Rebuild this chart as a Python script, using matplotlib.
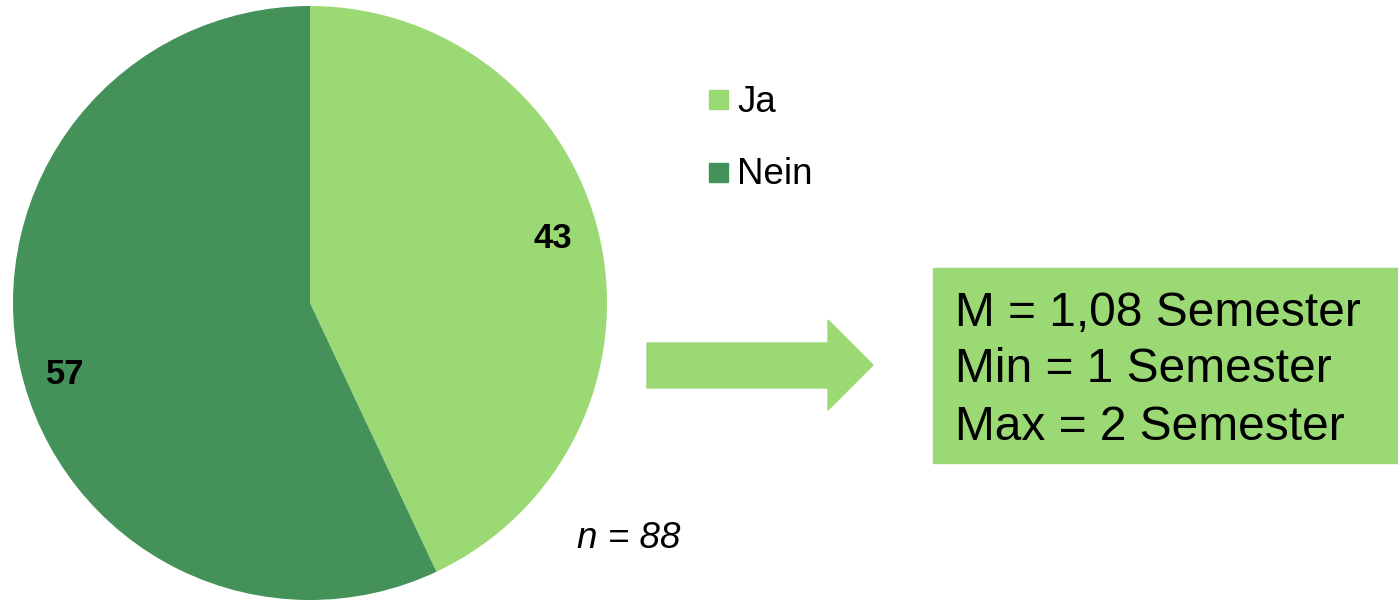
import matplotlib.pyplot as plt
from matplotlib.patches import Rectangle, Polygon

plt.rcParams['font.family'] = ['Liberation Sans', 'DejaVu Sans']

# Daten
kategorien = ['Ja', 'Nein']
werte = [43, 57]
farben = ['#9bd974', '#44925a']
stat_zeilen = ['M = 1,08 Semester', 'Min = 1 Semester', 'Max = 2 Semester']
n_text = 'n = 88'

W, H = 1398, 600
fig = plt.figure(figsize=(W / 100, H / 100), dpi=100)

# Kreisdiagramm
ax = fig.add_axes([13 / W, 0 / H, 594 / W, 594 / H])
wedges, _ = ax.pie(werte, colors=farben, startangle=90, counterclock=False,
                   radius=1.0)
ax.set_xlim(-1, 1)
ax.set_ylim(-1, 1)
ax.set_aspect('equal')
ax.axis('off')

# Overlay in Pixelkoordinaten
ov = fig.add_axes([0, 0, 1, 1])
ov.set_xlim(0, W)
ov.set_ylim(H, 0)
ov.axis('off')

# Wertbeschriftungen
ov.text(553, 238, str(werte[0]), ha='center', va='center', fontsize=25,
        fontweight='bold')
ov.text(65.5, 375, str(werte[1]), ha='center', va='center', fontsize=25,
        fontweight='bold')

# Legende
for i, (k, f) in enumerate(zip(kategorien, farben)):
    y = 99 + i * 73
    ov.add_patch(Rectangle((709, y - 9.5), 19, 19, color=f))
    ov.text(737, y + 3, k, ha='left', va='center', fontsize=26.5)

ov.text(629, 538, n_text, ha='center', va='center', fontsize=26.5,
        style='italic')

# Pfeil
pfeil = [(647, 343), (828, 343), (828, 320), (873, 365), (828, 410),
         (828, 388), (647, 388)]
ov.add_patch(Polygon(pfeil, closed=True, color=farben[0]))

# Kasten mit Kennwerten
ov.add_patch(Rectangle((933, 268), 465, 195, color=farben[0]))
for i, z in enumerate(stat_zeilen):
    ov.text(955, 313 + i * 57, z, ha='left', va='center', fontsize=34.5)

fig.savefig('out.png', dpi=100)
